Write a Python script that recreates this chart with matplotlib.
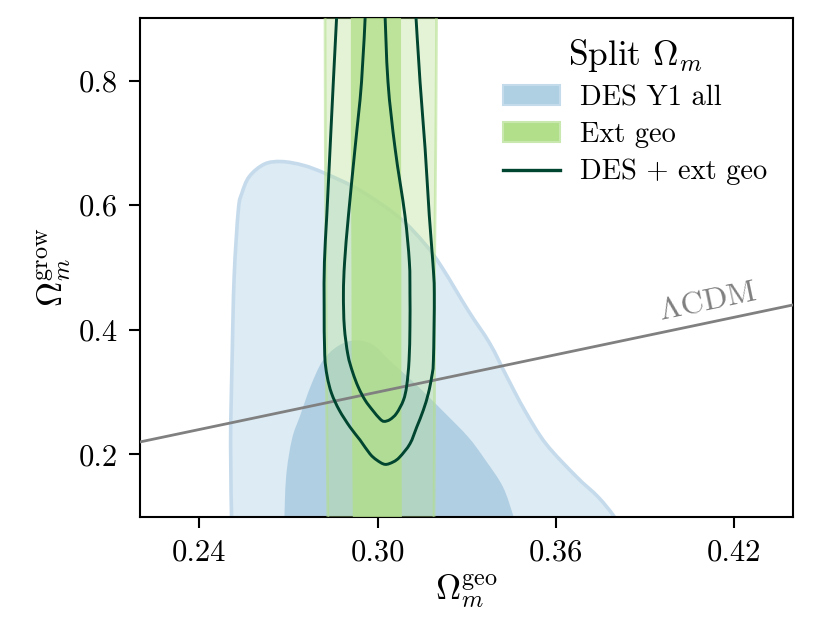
import numpy as np
import matplotlib
matplotlib.use("Agg")
import matplotlib.pyplot as plt
from matplotlib.patches import Patch, PathPatch
from matplotlib.lines import Line2D
from matplotlib.path import Path

plt.rcParams["font.family"] = "serif"
plt.rcParams["font.serif"] = ["cmr10"]
plt.rcParams["mathtext.fontset"] = "cm"
plt.rcParams["axes.formatter.use_mathtext"] = True
plt.rcParams["axes.unicode_minus"] = False

# DES Y1 all - outer (95%) region, traced outline
des95_x = [0.2509, 0.2505, 0.2510, 0.2517, 0.2531, 0.2543, 0.2568, 0.2619, 0.2677,
           0.2750, 0.2823, 0.2940, 0.3071, 0.3159, 0.3217, 0.3305, 0.3378, 0.3436,
           0.3495, 0.3567, 0.3670, 0.3742, 0.3794, 0.3820]
des95_y = [0.080, 0.217, 0.350, 0.485, 0.592, 0.619, 0.646, 0.666, 0.670,
           0.664, 0.651, 0.624, 0.581, 0.538, 0.500, 0.431, 0.378, 0.324,
           0.271, 0.217, 0.164, 0.132, 0.102, 0.080]

# DES Y1 all - inner (68%) region
des68_x = [0.2685, 0.2692, 0.2712, 0.2739, 0.2775, 0.2815, 0.2867, 0.2925, 0.2984,
           0.3042, 0.3130, 0.3217, 0.3305, 0.3363, 0.3422, 0.3458, 0.3470]
des68_y = [0.080, 0.164, 0.225, 0.262, 0.310, 0.350, 0.374, 0.383, 0.376,
           0.350, 0.312, 0.271, 0.228, 0.191, 0.148, 0.100, 0.080]

# Ext geo - vertical bands (lower / upper edge at each height)
geo_y = [0.08, 0.30, 0.50, 0.70, 0.92]
geo95_lo = [0.2833, 0.2828, 0.2826, 0.2824, 0.2823]
geo95_hi = [0.3190, 0.3192, 0.3192, 0.3196, 0.3199]
geo68_lo = [0.2917, 0.2913, 0.2912, 0.2910, 0.2910]
geo68_hi = [0.3082, 0.3080, 0.3080, 0.3079, 0.3079]

# DES + ext geo contours (open at the top)
comb95_x = [0.2864, 0.2851, 0.2840, 0.2829, 0.2821, 0.2820, 0.2822, 0.2830, 0.2845,
            0.2871, 0.2907, 0.2941, 0.2974, 0.2997, 0.3025, 0.3053, 0.3075, 0.3109,
            0.3132, 0.3154, 0.3171, 0.3182, 0.3188, 0.3191, 0.3186, 0.3174, 0.3160,
            0.3143, 0.3127]
comb95_y = [0.920, 0.798, 0.691, 0.584, 0.509, 0.440, 0.360, 0.326, 0.298,
            0.271, 0.244, 0.223, 0.201, 0.191, 0.184, 0.188, 0.196, 0.217,
            0.244, 0.271, 0.298, 0.324, 0.351, 0.458, 0.509, 0.584, 0.691,
            0.798, 0.920]

comb68_x = [0.2960, 0.2946, 0.2924, 0.2902, 0.2889, 0.2885, 0.2888, 0.2900, 0.2916,
            0.2935, 0.2958, 0.2983, 0.3008, 0.3022, 0.3042, 0.3064, 0.3087, 0.3098,
            0.3106, 0.3109, 0.3109, 0.3107, 0.3092, 0.3059, 0.3035, 0.3024]
comb68_y = [0.920, 0.798, 0.691, 0.584, 0.509, 0.458, 0.405, 0.360, 0.332,
            0.308, 0.287, 0.271, 0.257, 0.253, 0.256, 0.266, 0.287, 0.310,
            0.351, 0.405, 0.458, 0.509, 0.584, 0.691, 0.798, 0.920]

# LCDM: grow = geo
lcdm = [0.20, 0.46]

xticks = [0.24, 0.30, 0.36, 0.42]
xticklabels = ["0.24", "0.30", "0.36", "0.42"]
yticks = [0.2, 0.4, 0.6, 0.8]
yticklabels = ["0.2", "0.4", "0.6", "0.8"]

dark = "#00452f"
green = (178 / 255, 223 / 255, 138 / 255)


def smooth_path(xs, ys, close=False):
    # smooth curve through the traced points (Catmull-Rom as cubic beziers)
    pts = np.column_stack([xs, ys])
    ext = np.vstack([pts[0], pts, pts[-1]])
    verts = [pts[0]]
    codes = [Path.MOVETO]
    for i in range(len(pts) - 1):
        p0, p1, p2, p3 = ext[i], ext[i + 1], ext[i + 2], ext[i + 3]
        verts += [p1 + (p2 - p0) / 6, p2 - (p3 - p1) / 6, p2]
        codes += [Path.CURVE4] * 3
    if close:
        verts.append(pts[0])
        codes.append(Path.CLOSEPOLY)
    return Path(verts, codes)


fig = plt.figure(figsize=(8.3, 6.22), dpi=100)
ax = fig.add_axes([0.1687, 0.1693, 0.7871, 0.8013])

ax.add_patch(PathPatch(smooth_path(des95_x, des95_y, close=True),
                       facecolor="#dcebf4", edgecolor="#c5dbec", lw=2.6, zorder=1))
ax.add_patch(PathPatch(smooth_path(des68_x, des68_y, close=True),
                       facecolor="#b1cfe3", edgecolor="none", zorder=2))

ax.fill(geo95_lo + geo95_hi[::-1], geo_y + geo_y[::-1],
        facecolor=green + (0.35,), edgecolor=green + (0.55,), lw=2, zorder=3)
ax.fill(geo68_lo + geo68_hi[::-1], geo_y + geo_y[::-1],
        facecolor=green + (0.78,), edgecolor="none", zorder=4)

ax.plot(lcdm, lcdm, color="gray", lw=2.0, zorder=5)
ax.text(0.4113, 0.4445, r"$\Lambda\mathrm{CDM}$", rotation=45, transform_rotates_text=True,
        rotation_mode="anchor", ha="center", va="center", color="gray", fontsize=23)

ax.add_patch(PathPatch(smooth_path(comb95_x, comb95_y), fill=False,
                       edgecolor=dark, lw=2.1, zorder=6))
ax.add_patch(PathPatch(smooth_path(comb68_x, comb68_y), fill=False,
                       edgecolor=dark, lw=2.1, zorder=6))

ax.set_xlim(0.22, 0.44)
ax.set_ylim(0.1, 0.9)
ax.set_xticks(xticks)
ax.set_xticklabels(xticklabels)
ax.set_yticks(yticks)
ax.set_yticklabels(yticklabels)
ax.tick_params(direction="out", length=8, width=1.5, labelsize=22, pad=8)
for s in ax.spines.values():
    s.set_linewidth(1.5)

ax.set_xlabel(r"$\Omega_m^{\rm geo}$", fontsize=25)
ax.set_ylabel(r"$\Omega_m^{\rm grow}$", fontsize=25)

handles = [Patch(facecolor="#afcfe3", edgecolor="#c4dbeb", lw=1.5, label="DES Y1 all"),
           Patch(facecolor="#b2df8a", edgecolor="#c8e8b0", lw=1.5, label="Ext geo"),
           Line2D([], [], color=dark, lw=2.4, label="DES + ext geo")]
ax.legend(handles=handles, title=r"Split $\Omega_m$", loc="upper right", frameon=False,
          fontsize=20.5, title_fontsize=25.5, handletextpad=0.7, labelspacing=0.38,
          borderaxespad=0.2, bbox_to_anchor=(0.986, 0.997))

fig.savefig("out.png", dpi=100)
